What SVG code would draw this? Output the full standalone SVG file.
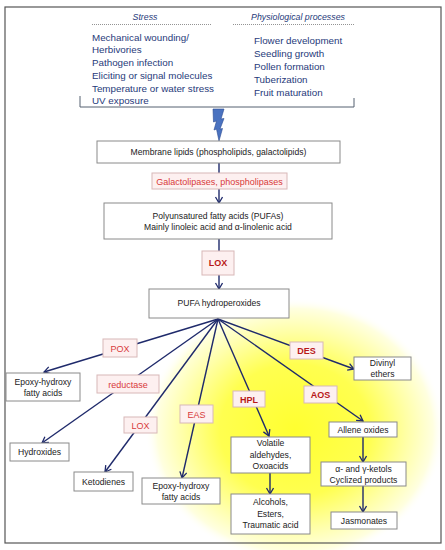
<svg xmlns="http://www.w3.org/2000/svg" width="445" height="550" viewBox="0 0 445 550">
<defs>
<radialGradient id="glow" cx="295" cy="430" r="150" gradientUnits="userSpaceOnUse" gradientTransform="translate(295 430) scale(1 0.88) translate(-295 -430)">
<stop offset="0" stop-color="#FFFF30"/>
<stop offset="0.5" stop-color="#FFFF50"/>
<stop offset="0.75" stop-color="#FFFFA8"/>
<stop offset="0.92" stop-color="#FFFFE0"/>
<stop offset="1" stop-color="#FFFFFF" stop-opacity="0"/>
</radialGradient>
<marker id="arr" markerWidth="10" markerHeight="10" refX="7" refY="4" orient="auto" markerUnits="userSpaceOnUse">
<path d="M1,0.5 L7,4 L1,7.5" fill="none" stroke="#1F2A6B" stroke-width="1.3"/>
</marker>
<style>
.box{fill:#FFFFFF;stroke:#8A8A8A;stroke-width:1}
.lbl{fill:#FDF0F0;stroke:#D8B8B8;stroke-width:1}
.t{font-family:"Liberation Sans",Arial,sans-serif;font-size:8.6px;fill:#222222;text-anchor:middle}
.r{font-family:"Liberation Sans",Arial,sans-serif;font-size:9px;fill:#D83A3A;text-anchor:middle}
.rb{font-family:"Liberation Sans",Arial,sans-serif;font-size:9px;font-weight:bold;fill:#B81818;text-anchor:middle}
.s{font-family:"Liberation Sans",Arial,sans-serif;font-size:9.8px;fill:#1F3A7A}
.h{font-family:"Liberation Sans",Arial,sans-serif;font-size:8.8px;font-style:italic;fill:#1F3A7A;text-anchor:middle}
.c{stroke:#1F2A6B;stroke-width:1.4;fill:none}
</style>
</defs>
<rect x="0" y="0" width="445" height="550" fill="#FFFFFF"/>
<ellipse cx="295" cy="430" rx="155" ry="135" fill="url(#glow)"/>
<rect x="5" y="7" width="436" height="536" fill="none" stroke="#555555" stroke-width="1.2"/>

<g id="header">
<text class="h" x="145" y="20">Stress</text>
<line x1="92" y1="24.5" x2="212" y2="24.5" stroke="#777777" stroke-width="0.8" stroke-dasharray="1,1"/>
<text class="h" x="298" y="20">Physiological processes</text>
<line x1="233" y1="24.5" x2="354" y2="24.5" stroke="#777777" stroke-width="0.8" stroke-dasharray="1,1"/>
<text class="s" x="92" y="40.5">Mechanical wounding/</text>
<text class="s" x="92" y="53">Herbivories</text>
<text class="s" x="92" y="65.5">Pathogen infection</text>
<text class="s" x="92" y="78.5">Eliciting or signal molecules</text>
<text class="s" x="92" y="91.5">Temperature  or water stress</text>
<text class="s" x="92" y="104">UV exposure</text>
<text class="s" x="254" y="43.5">Flower development</text>
<text class="s" x="254" y="56.5">Seedling growth</text>
<text class="s" x="254" y="69.5">Pollen formation</text>
<text class="s" x="254" y="82.5">Tuberization</text>
<text class="s" x="254" y="95.5">Fruit maturation</text>
<path d="M80,96 L80,107 L354,107 L354,98" fill="none" stroke="#556070" stroke-width="1"/>
<polygon points="213,109 224,109 221,119 224,118.5 220,129 222.5,128.5 219,141 216.5,129 214,130 216.5,121 213.5,122" fill="#4A72C0" stroke="#2A4A90" stroke-width="0.6"/>
</g>

<g id="connectors">
<line class="c" x1="219" y1="163" x2="219" y2="203" marker-end="url(#arr)"/>
<line class="c" x1="219" y1="239" x2="219" y2="289" marker-end="url(#arr)"/>
<line class="c" x1="218" y1="319" x2="44" y2="372" marker-end="url(#arr)"/>
<line class="c" x1="218" y1="319" x2="42" y2="443" marker-end="url(#arr)"/>
<line class="c" x1="218" y1="319" x2="105" y2="472" marker-end="url(#arr)"/>
<line class="c" x1="218" y1="319" x2="182" y2="478" marker-end="url(#arr)"/>
<line class="c" x1="218" y1="319" x2="269" y2="436" marker-end="url(#arr)"/>
<line class="c" x1="218" y1="319" x2="363" y2="421" marker-end="url(#arr)"/>
<line class="c" x1="218" y1="319" x2="354" y2="369" marker-end="url(#arr)"/>
<line class="c" x1="270" y1="473" x2="270" y2="494" marker-end="url(#arr)"/>
<line class="c" x1="363" y1="437" x2="363" y2="462" marker-end="url(#arr)"/>
<line class="c" x1="363" y1="486" x2="363" y2="512" marker-end="url(#arr)"/>
</g>

<g id="membrane"><rect class="box" x="97" y="141" width="243" height="22"/><text class="t" x="218.5" y="155">Membrane lipids (phospholipids, galactolipids)</text></g>
<g id="galacto"><rect class="lbl" x="152" y="173" width="135" height="16"/><text class="r" x="219.5" y="184.5">Galactolipases, phospholipases</text></g>
<g id="pufa"><rect class="box" x="104" y="203" width="228" height="36"/><text class="t" x="218" y="219">Polyunsatured fatty acids (PUFAs)</text><text class="t" x="218" y="230">Mainly linoleic acid and α-linolenic acid</text></g>
<g id="lox1"><rect class="lbl" x="202" y="251" width="32" height="24"/><text class="rb" x="218" y="266">LOX</text></g>
<g id="hydroperox"><rect class="box" x="149" y="289" width="140" height="29"/><text class="t" x="219" y="306">PUFA hydroperoxides</text></g>

<g id="pox"><rect class="lbl" x="103" y="339" width="34" height="18"/><text class="r" x="120" y="351.5">POX</text></g>
<g id="epoxy1"><rect class="box" x="6" y="373" width="74" height="28"/><text class="t" x="43" y="385">Epoxy-hydroxy</text><text class="t" x="43" y="396">fatty acids</text></g>
<g id="reductase"><rect class="lbl" x="97" y="375" width="62" height="18"/><text class="r" x="128" y="387.5">reductase</text></g>
<g id="hydroxides"><rect class="box" x="10" y="443" width="59" height="18"/><text class="t" x="39.5" y="455">Hydroxides</text></g>
<g id="lox2"><rect class="lbl" x="124" y="417" width="33" height="16"/><text class="r" x="140.5" y="428.5">LOX</text></g>
<g id="ketodienes"><rect class="box" x="74" y="472" width="59" height="19"/><text class="t" x="103.5" y="484.5">Ketodienes</text></g>
<g id="eas"><rect class="lbl" x="180" y="405" width="33" height="18"/><text class="r" x="196.5" y="417.5">EAS</text></g>
<g id="epoxy2"><rect class="box" x="142" y="478" width="78" height="26"/><text class="t" x="181" y="489">Epoxy-hydroxy</text><text class="t" x="181" y="500">fatty acids</text></g>
<g id="hpl"><rect class="lbl" x="233" y="391" width="32" height="16"/><text class="rb" x="249" y="402.5">HPL</text></g>
<g id="volatile"><rect class="box" x="231" y="437" width="79" height="36"/><text class="t" x="270.5" y="446">Volatile</text><text class="t" x="270.5" y="457.5">aldehydes,</text><text class="t" x="270.5" y="469">Oxoacids</text></g>
<g id="alcohols"><rect class="box" x="231" y="494" width="79" height="40"/><text class="t" x="270.5" y="505">Alcohols,</text><text class="t" x="270.5" y="516.5">Esters,</text><text class="t" x="270.5" y="528">Traumatic acid</text></g>
<g id="des"><rect class="lbl" x="290" y="342" width="33" height="17"/><text class="rb" x="306.5" y="354">DES</text></g>
<g id="divinyl"><rect class="box" x="354" y="357" width="57" height="23"/><text class="t" x="382.5" y="366">Divinyl</text><text class="t" x="382.5" y="377">ethers</text></g>
<g id="aos"><rect class="lbl" x="304" y="386" width="33" height="17"/><text class="rb" x="320.5" y="398">AOS</text></g>
<g id="allene"><rect class="box" x="329" y="422" width="68" height="15"/><text class="t" x="363" y="432.5">Allene oxides</text></g>
<g id="ketols"><rect class="box" x="321" y="462" width="85" height="24"/><text class="t" x="363.5" y="471.5">α- and γ-ketols</text><text class="t" x="363.5" y="482.5">Cyclized products</text></g>
<g id="jasmonates"><rect class="box" x="331" y="512" width="66" height="17"/><text class="t" x="364" y="523.5">Jasmonates</text></g>
</svg>
